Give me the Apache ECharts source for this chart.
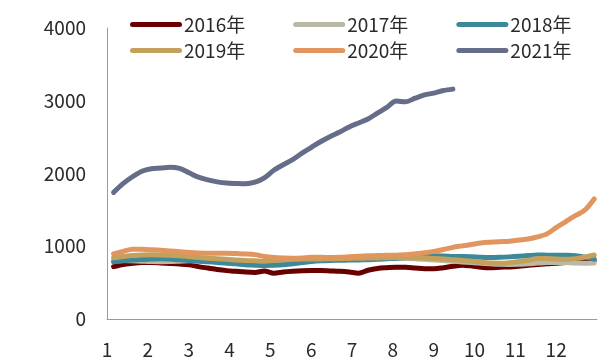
<!DOCTYPE html>
<html>
<head>
<meta charset="utf-8">
<script src="https://cdn.jsdelivr.net/npm/echarts@6/dist/echarts.min.js"></script>
<style>html,body{margin:0;padding:0;background:#fff;}#c{width:615px;height:359px;}</style>
</head>
<body>
<div id="c"></div>
<script>
// Month tick labels (x axis) and y ticks
const monthLabels = ['1','2','3','4','5','6','7','8','9','10','11','12'];
const yTicks = [0, 1000, 2000, 3000, 4000];
const seriesNames = ['2016年','2017年','2018年','2019年','2020年','2021年'];

// Weekly values (week 1..52)
const y2016 = [720,750,765,775,776,770,763,755,744,720,700,680,665,655,645,640,660,630,645,655,662,665,665,660,655,645,630,670,695,705,712,710,700,690,690,705,725,740,730,712,705,712,716,725,738,748,758,765,775,785,795,805];
const y2017 = [800,805,800,795,790,788,790,795,800,800,795,788,780,775,770,768,770,778,790,800,810,815,818,820,822,825,828,830,832,835,835,832,828,820,812,805,795,785,775,765,758,752,750,752,760,768,775,778,775,770,768,770];
const y2018 = [785,800,810,818,825,828,826,815,805,795,788,778,765,758,745,740,736,738,745,760,775,790,800,805,808,810,812,815,820,828,835,845,855,862,868,866,860,858,855,848,845,848,854,862,872,880,878,877,876,870,850,822];
const y2019 = [840,860,872,880,882,880,876,868,856,845,835,828,820,812,805,800,795,805,815,820,825,825,825,828,830,832,835,838,840,842,845,845,842,838,832,825,815,805,795,780,770,768,775,790,808,830,832,825,822,830,850,880];
const y2020 = [895,930,960,958,952,945,935,925,915,908,904,905,905,900,895,885,860,845,838,836,840,848,848,845,848,855,862,868,872,875,878,882,895,910,930,955,985,1005,1025,1045,1055,1062,1068,1085,1100,1128,1170,1260,1340,1420,1495,1650];
const y2021 = [1740,1860,1955,2030,2065,2075,2087,2070,2010,1950,1912,1885,1868,1862,1858,1880,1940,2045,2120,2190,2280,2360,2440,2510,2570,2640,2695,2750,2830,2910,2995,2985,3035,3080,3105,3140,3160];

const colors = ['#680000','#B9B9A6','#3D8999','#C3A05C','#E0965E','#656D89'];

// week index -> position on the month axis (month 1 starts at 1, year ends at 13)
function toPairs(vals){ return vals.map((v,i)=>[1 + (i + 0.7) * 12 / 52, v]); }

const allY = [y2016,y2017,y2018,y2019,y2020,y2021];
const pill = 'path://M2.5,0 H49.5 A2.5,2.5 0 0 1 49.5,5 H2.5 A2.5,2.5 0 0 1 2.5,0 Z';

const chart = echarts.init(document.getElementById('c'), null, {renderer:'canvas'});
const textColor = '#2a2a2a';
const font = 'Noto Sans CJK SC';
const legendBase = {
  left: 125, itemWidth: 52, itemHeight: 5, itemGap: 48, icon: pill,
  textStyle: {fontFamily: font, fontSize: 19, color: textColor, padding: [0,0,0,-3]},
  selectedMode: false
};
chart.setOption({
  animation: false,
  color: colors,
  legend: [
    Object.assign({}, legendBase, {top: 10, data: seriesNames.slice(0,3)}),
    Object.assign({}, legendBase, {top: 36, data: seriesNames.slice(3)})
  ],
  grid: {left: 107, right: 18, top: 28, bottom: 39},
  xAxis: {
    type: 'value', min: 1, max: 13, interval: 1,
    axisLine: {show: true, lineStyle: {color: '#9a9a9a', width: 1}},
    axisTick: {show: false}, splitLine: {show: false},
    axisLabel: {
      margin: 21, color: textColor, fontFamily: font, fontSize: 19,
      formatter: v => (v >= 1 && v <= 12) ? monthLabels[v - 1] : ''
    }
  },
  yAxis: {
    type: 'value', min: yTicks[0], max: yTicks[yTicks.length-1], interval: 1000,
    axisLine: {show: true, lineStyle: {color: '#9a9a9a', width: 1}},
    axisTick: {show: false}, splitLine: {show: false},
    axisLabel: {margin: 21, color: textColor, fontFamily: font, fontSize: 19,
      formatter: v => String(v)}
  },
  series: seriesNames.map((n, i) => ({
    name: n, type: 'line', data: toPairs(allY[i]), showSymbol: false, symbol: 'none',
    smooth: 0.3,
    lineStyle: {width: 5, color: colors[i], cap: 'round', join: 'round'},
    itemStyle: {color: colors[i]},
    z: 2 + i
  }))
});
</script>
</body>
</html>
